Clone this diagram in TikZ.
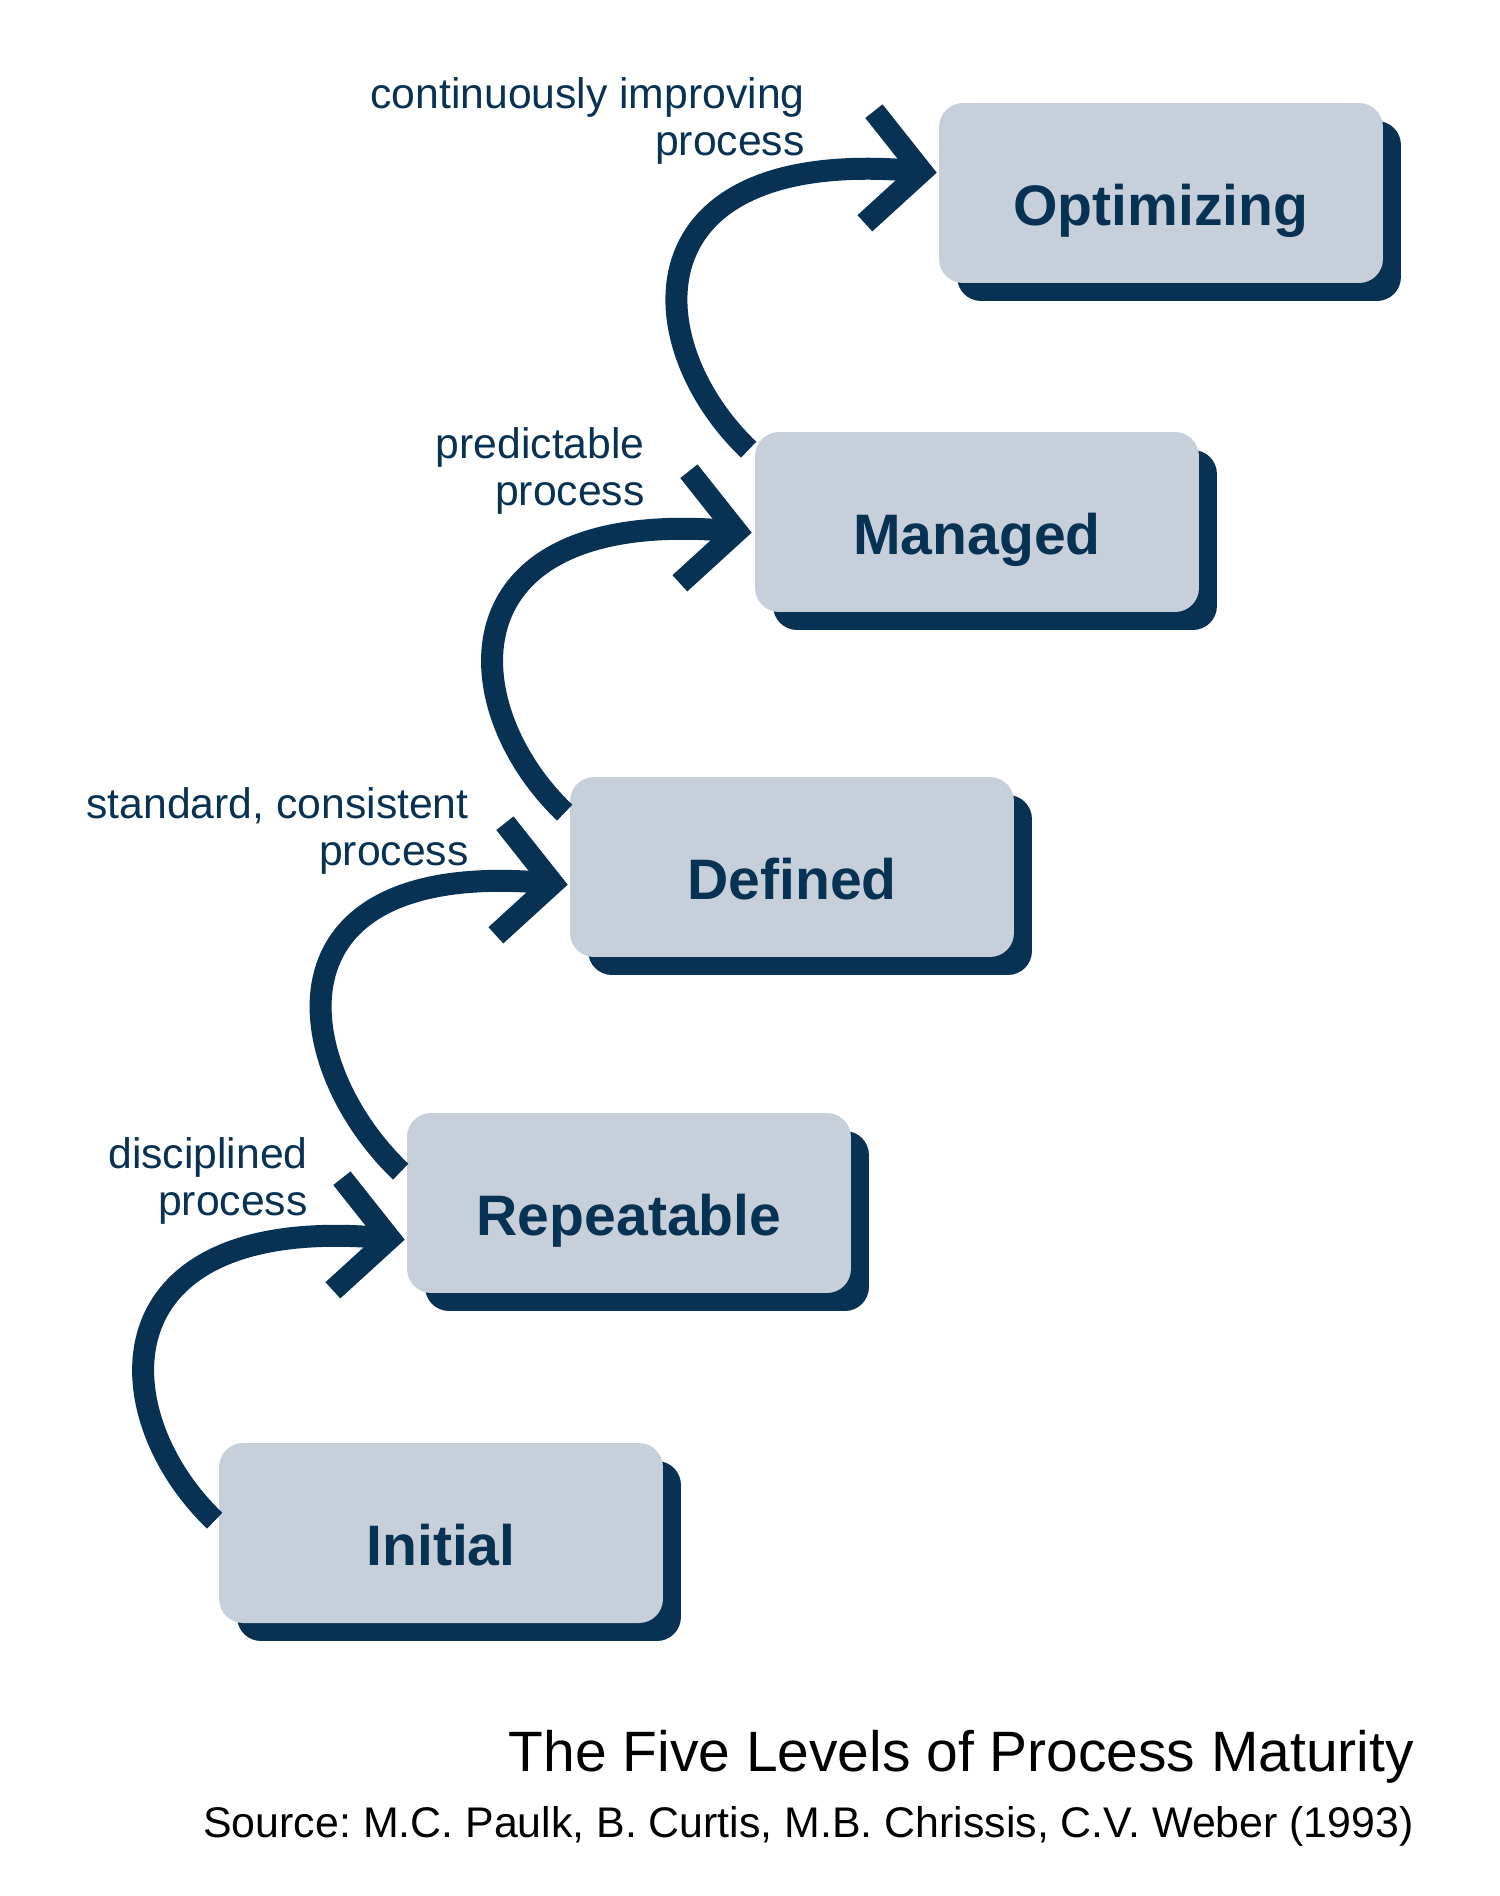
\documentclass[tikz,border=0pt]{standalone}
\usepackage{fontspec}
\setmainfont{Liberation Sans}
\usetikzlibrary{arrows.meta,shadows}

\definecolor{navy}{HTML}{083254}
\definecolor{boxgray}{HTML}{C7D0DA}

\tikzset{
  stagebox/.style={fill=boxgray, rounded corners=0.48cm, minimum width=8.88cm,
    minimum height=3.6cm, text=navy, text height=1.6cm, text depth=0.3cm,
    font=\fontsize{32.5}{38}\selectfont\bfseries,
    drop shadow={shadow xshift=0.36cm, shadow yshift=-0.36cm, fill=navy, opacity=1}},
  climb/.style={draw=navy, line width=0.44cm,
    -{Straight Barb[length=1.05cm, width=2.25cm]}},
  stagenote/.style={text=navy, font=\fontsize{24.3}{26.4}\selectfont, align=right,
    anchor=east, inner sep=0pt}
}

\begin{document}
\frenchspacing
\begin{tikzpicture}[x=0.02cm, y=-0.02cm]
 \useasboundingbox (0,0) rectangle (1500,1896);

 \node[stagebox] (opt) at (1161,193) {Optimizing};
 \node[stagebox] (man) at (977,522) {Managed};
 \node[stagebox] (def) at (792,867) {Defined};
 \node[stagebox] (rep) at (629,1203) {Repeatable};
 \node[stagebox] (init) at (441,1533) {Initial};

 \node[stagenote] (n4) at (805,121) {continuously improving\\process};
 \node[stagenote] (n3) at (645,471) {predictable\\process};
 \node[stagenote] (n2) at (469,831) {standard, consistent\\process};
 \node[stagenote] (n1) at (308,1181) {disciplined\\process};

 \draw[climb] ([shift={(-4,78)}]init.north west) .. controls +(-110,-105) and +(-310,-25) .. ([shift={(-2,127)}]rep.north west);
 \draw[climb] ([shift={(-6,59)}]rep.north west) .. controls +(-110,-105) and +(-310,-25) .. ([shift={(-2,108)}]def.north west);
 \draw[climb] ([shift={(-5,36)}]def.north west) .. controls +(-110,-105) and +(-310,-25) .. ([shift={(-3,101)}]man.north west);
 \draw[climb] ([shift={(-6,18)}]man.north west) .. controls +(-110,-105) and +(-310,-25) .. ([shift={(-2,70)}]opt.north west);

 \node[anchor=base east, inner sep=0pt, font=\fontsize{32.4}{38}\selectfont] (title) at (1414,1771) {The Five Levels of Process Maturity};
 \node[anchor=base east, inner sep=0pt, font=\fontsize{24.4}{28}\selectfont] (source) at (1414,1837) {Source: M.C. Paulk, B. Curtis, M.B. Chrissis, C.V. Weber (1993)};
\end{tikzpicture}
\end{document}
